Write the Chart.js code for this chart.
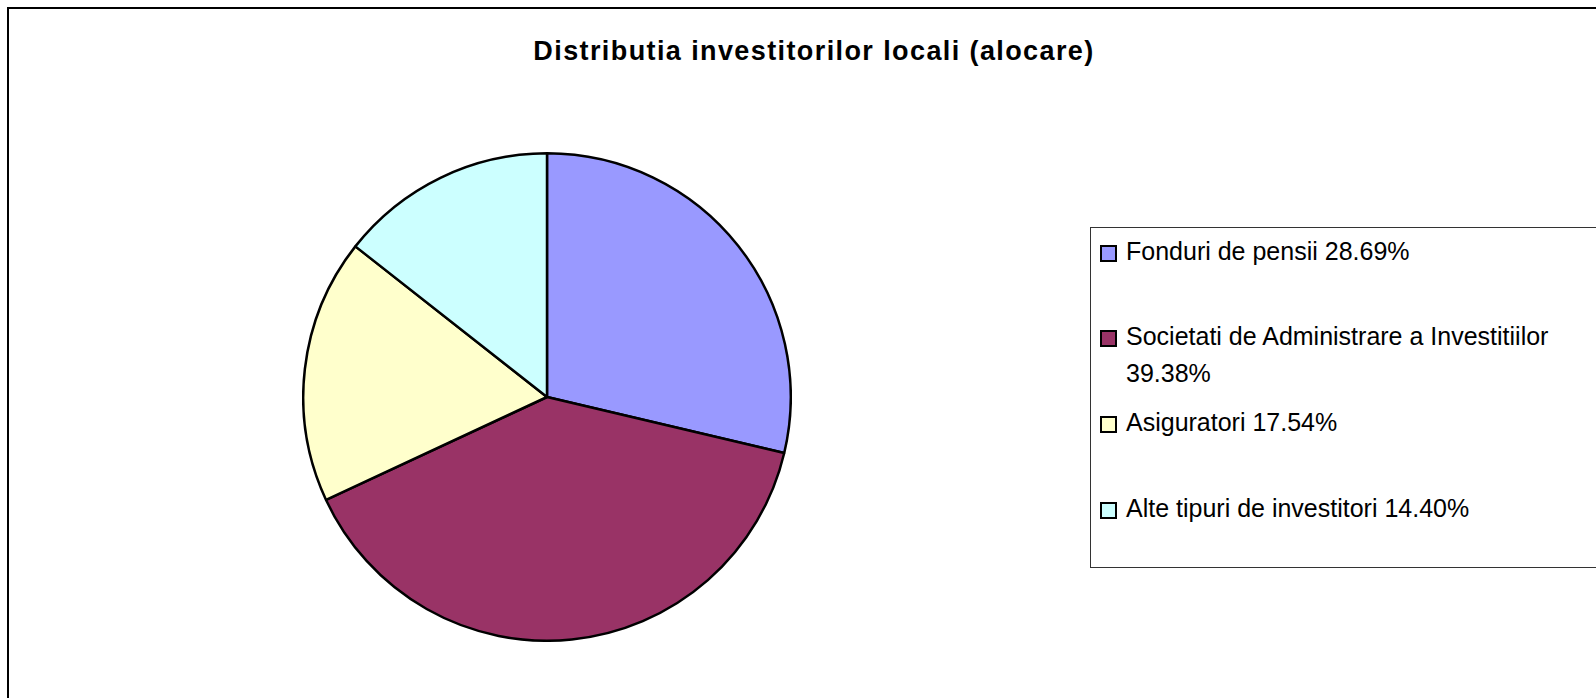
<!DOCTYPE html>
<html>
<head>
<meta charset="utf-8">
<script src="https://cdn.jsdelivr.net/npm/chart.js@4"></script>
<style>
  html, body { margin: 0; padding: 0; background: #fff; }
  body { width: 1596px; height: 698px; position: relative; overflow: hidden; font-family: 'Liberation Sans', Arial, sans-serif; }
  #frame { position: absolute; left: 7px; top: 7px; width: 1700px; height: 800px; border-left: 2px solid #000; border-top: 2px solid #000; }
  #title { position: absolute; left: 2px; top: 36px; width: 1624px; text-align: center; font-weight: bold; font-size: 27px; letter-spacing: 1.4px; color: #000; }
  #pie-wrap { position: absolute; left: 302px; top: 152px; width: 490px; height: 490px; }
  #legend { position: absolute; left: 1090px; top: 227px; width: 620px; height: 339px; border: 1px solid #333; }
  .item { position: absolute; left: 0; font-size: 25px; line-height: 37px; color: #000; white-space: nowrap; }
  .item .box { position: absolute; left: 9px; width: 13px; height: 13px; border: 2px solid #000; }
  .item .txt { position: absolute; left: 35px; }
</style>
</head>
<body>
<div id="frame"></div>
<div id="title">Distributia investitorilor locali (alocare)</div>
<div id="pie-wrap"><canvas id="chart-pie" width="490" height="490"></canvas></div>
<div id="legend"></div>
<script>
// Investor categories and allocation share (%)
const categories = ['Fonduri de pensii', 'Societati de Administrare a Investitiilor', 'Asiguratori', 'Alte tipuri de investitori'];
const shares = [28.69, 39.38, 17.54, 14.40];
const colors = ['#9999FF', '#993366', '#FFFFCC', '#CCFFFF'];

const PieChart = {
  chart: null,

  init() {
    const ctx = document.getElementById('chart-pie').getContext('2d');
    this.chart = new Chart(ctx, {
      type: 'pie',
      data: {
        labels: categories,
        datasets: [{
          data: shares,
          backgroundColor: colors,
          borderColor: '#000',
          borderWidth: 2.5,
          hoverOffset: 0
        }]
      },
      options: {
        responsive: false,
        animation: false,
        layout: { padding: 0 },
        plugins: {
          legend: { display: false },
          title: { display: false },
          tooltip: { enabled: false }
        }
      }
    });
    this.buildLegend();
  },

  buildLegend() {
    // top offset of each row, second item wraps on two lines
    const rowTops = [233, 318, 404, 490];
    const legend = document.getElementById('legend');
    legend.innerHTML = categories.map((label, i) => {
      const pct = shares[i].toFixed(2) + '%';
      const text = i === 1 ? `${label}<br>${pct}` : `${label} ${pct}`;
      return `<div class="item" style="top:${rowTops[i] - 228}px">
        <span class="box" style="top:12px;background:${colors[i]}"></span>
        <span class="txt">${text}</span>
      </div>`;
    }).join('');
  }
};

PieChart.init();
</script>
</body>
</html>
